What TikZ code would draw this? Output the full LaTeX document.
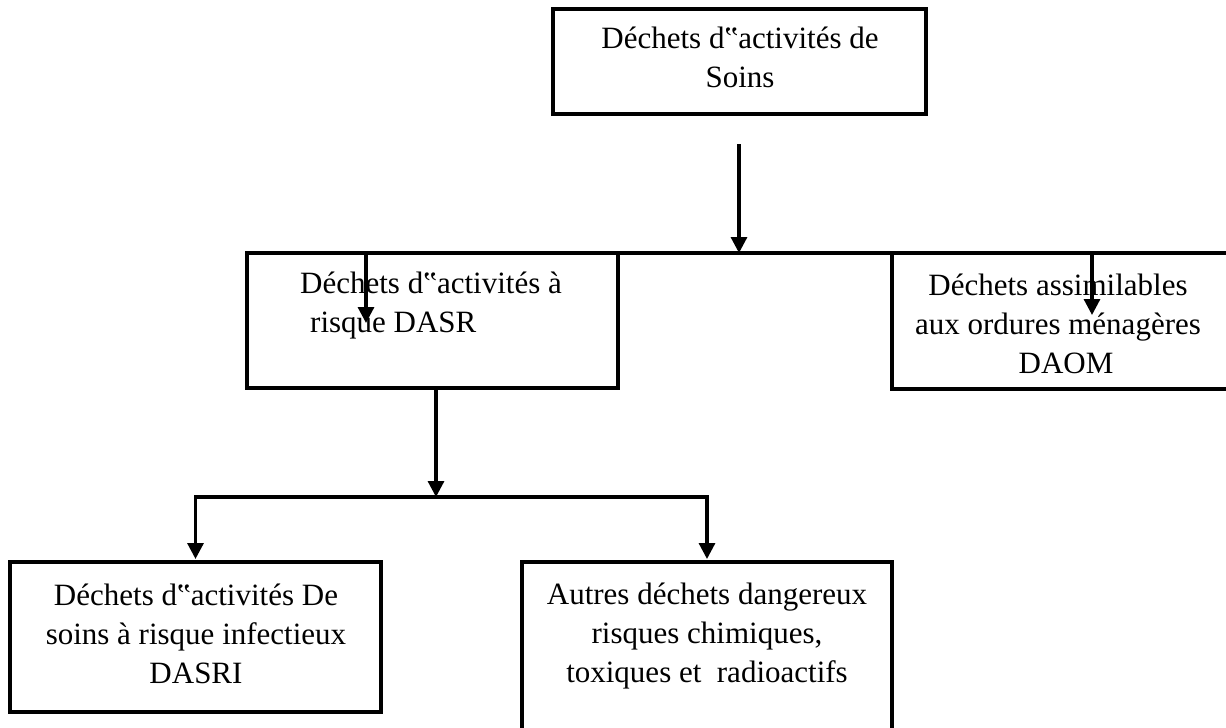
\documentclass[tikz,border=0pt]{standalone}
\usepackage{fontspec}
\setmainfont{Liberation Serif}
\usetikzlibrary{arrows.meta}
\newcommand{\st}{\rule{0pt}{24pt}}
\begin{document}
\begin{tikzpicture}[x=1pt,y=-1pt,
  box/.style={draw=black,line width=3.2pt,rectangle,inner sep=0pt,outer sep=0pt,line join=miter},
  txt/.style={font=\fontsize{31}{39}\selectfont,inner sep=0pt,align=center,anchor=north},
  line/.style={draw=black,line width=3.2pt},
  arr/.style={line,-{Triangle[width=16pt,length=16pt]}}]
\useasboundingbox (0,0) rectangle (1226,728);
% boxes
\node[box,minimum width=373pt,minimum height=105pt] (top) at (739.5,61.5) {};
\node[box,minimum width=371pt,minimum height=135pt] (dasr) at (432.5,320.5) {};
\node[box,minimum width=340pt,minimum height=136pt] (daom) at (1062,321) {};
\node[box,minimum width=371pt,minimum height=150pt] (dasri) at (195.5,637) {};
\node[box,minimum width=370pt,minimum height=180pt] (autres) at (707,652) {};
% texts
\node[txt] (ttop) at (740,24) {\st Déchets d‟activités de\\Soins};
\node[txt,align=left,anchor=north west] (tdasr) at (300,269) {\st Déchets d‟activités à\\\hspace{10pt}risque DASR};
\node[txt] (tdaom) at (1058,271) {\st Déchets assimilables\\aux ordures ménagères\\\hspace{16pt}DAOM};
\node[txt] (tdasri) at (196,581) {\st Déchets d‟activités De\\soins à risque infectieux\\DASRI};
\node[txt] (tautres) at (707,580) {\st Autres déchets dangereux\\risques chimiques,\\toxiques et\ \ radioactifs};
% connectors
\coordinate (s0) at (739,144);
\draw[arr] (s0) -- (s0 |- dasr.north);
\draw[line] (dasr.north east) -- (daom.north west);
\coordinate (a1) at (366,323);
\draw[arr] (a1 |- dasr.north) -- (a1);
\coordinate (a2) at (1092,315);
\draw[arr] (a2 |- daom.north) -- (a2);
\coordinate (j) at (436,497);
\draw[arr] (j |- dasr.south) -- (j);
\draw[arr] (j) -| ([yshift=3pt]dasri.north);
\draw[arr] (j) -| ([yshift=3pt]autres.north);
\end{tikzpicture}
\end{document}
